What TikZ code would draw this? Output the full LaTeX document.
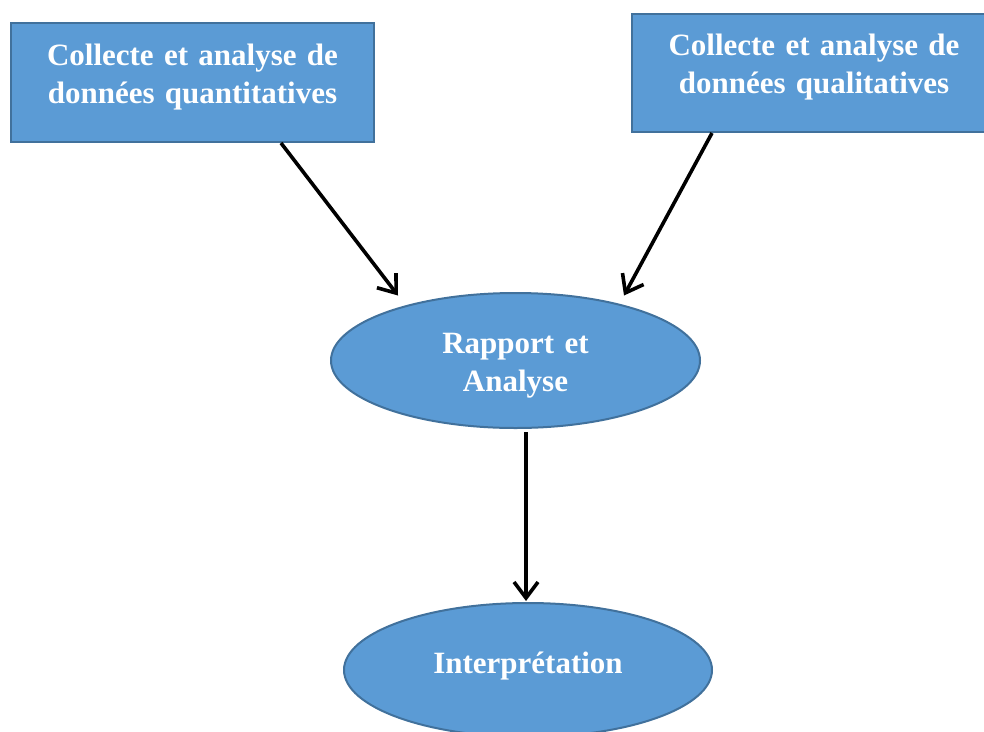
\documentclass[tikz,border=0pt]{standalone}
\usepackage{fontspec}
\setmainfont{Liberation Serif}
\usetikzlibrary{arrows.meta,shapes.geometric,calc}
\definecolor{boxfill}{HTML}{5B9BD5}
\definecolor{boxline}{HTML}{41719C}
\tikzset{
  shapebase/.style={fill=boxfill, draw=boxline, line width=2pt, text=white,
    font=\fontsize{31}{38.5}\selectfont\bfseries, inner sep=0pt, align=center},
  rectbox/.style={shapebase, rectangle, anchor=north west},
  ellbox/.style={shapebase, ellipse},
  arr/.style={draw=black, line width=3.6pt, -{Straight Barb[length=16pt,width=24pt,line width=3.6pt]}}
}
\begin{document}
\begin{tikzpicture}[x=1pt,y=-1pt]
\useasboundingbox (0,0) rectangle (984,731);
\clip (0,0) rectangle (984,731);
\node[rectbox, text width=363pt, text height=42pt, text depth=77pt] (b1) at (10,22)
  {Collecte et analyse de\\données quantitatives};
\node[rectbox, text width=364pt, text height=41pt, text depth=77pt] (b2) at (631,13)
  {Collecte et analyse de\\données qualitatives};
\node[ellbox, minimum width=369pt, minimum height=135pt, text width=220pt, text height=30pt, text depth=45pt] (e1) at (515.5,360.5)
  {Rapport et\\Analyse};
\node[ellbox, minimum width=368pt, minimum height=134pt, text height=22pt, text depth=16pt] (e2) at (528,670)
  {Interprétation};
\coordinate (a1s) at ($(b1.south west)+(271,0)$);
\coordinate (a1e) at ($(e1.center)+(-117.5,-65)$);
\coordinate (a2s) at ($(b2.south west)+(81,0)$);
\coordinate (a2e) at ($(e1.center)+(108.5,-65)$);
\coordinate (a3s) at ($(e1.south)+(10.5,3)$);
\coordinate (a3e) at ($(e2.north)+(-2,-1)$);
\draw[arr] (a1s) -- (a1e);
\draw[arr] (a2s) -- (a2e);
\draw[arr] (a3s) -- (a3e);
\end{tikzpicture}
\end{document}
